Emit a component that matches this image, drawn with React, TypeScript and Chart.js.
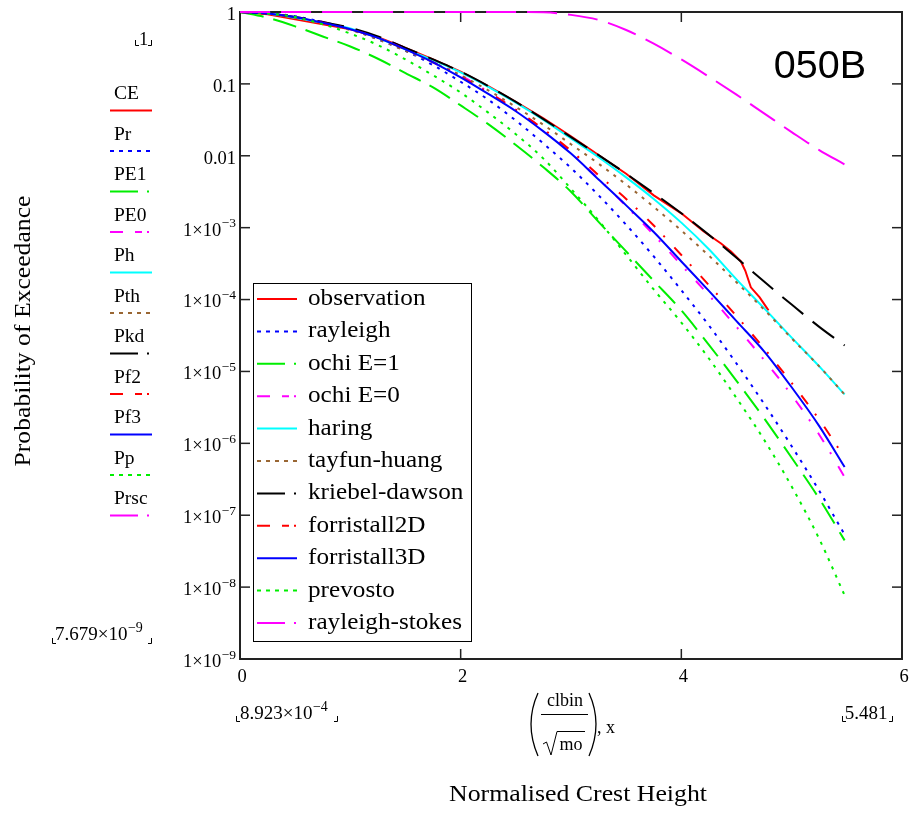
import React, { useEffect, useRef } from "react";
import { Chart, registerables } from "chart.js";
Chart.register(...registerables);

const W = 913;
const H = 821;

// ---------- data ----------
// normalised crest height grid shared by the model curves
const X = [0.00089, 0.25, 0.5, 0.75, 1, 1.25, 1.5, 1.75, 2, 2.25, 2.5, 2.75, 3, 3.25, 3.5, 3.75, 4, 4.25, 4.5, 4.75, 5, 5.25, 5.48];
// values are log10(probability of exceedance)
const logPr = [0, -0.015, -0.06, -0.14, -0.24, -0.38, -0.54, -0.74, -0.97, -1.22, -1.51, -1.83, -2.17, -2.55, -2.96, -3.4, -3.87, -4.36, -4.89, -5.45, -6.04, -6.66, -7.27];
const logPE1 = [0, -0.08, -0.2, -0.34, -0.48, -0.65, -0.85, -1.05, -1.3, -1.56, -1.85, -2.16, -2.5, -2.92, -3.33, -3.74, -4.15, -4.63, -5.13, -5.65, -6.2, -6.77, -7.35];
const logPE0 = [0, -0.02, -0.07, -0.14, -0.23, -0.35, -0.5, -0.68, -0.88, -1.11, -1.36, -1.64, -1.96, -2.32, -2.7, -3.1, -3.52, -3.94, -4.38, -4.84, -5.33, -5.88, -6.47];
const logPh = [0, -0.02, -0.08, -0.15, -0.23, -0.36, -0.52, -0.67, -0.84, -1.04, -1.26, -1.5, -1.76, -2.02, -2.3, -2.6, -2.93, -3.3, -3.72, -4.12, -4.53, -4.93, -5.32];
const logPth = [0, -0.02, -0.08, -0.16, -0.25, -0.38, -0.54, -0.7, -0.88, -1.09, -1.32, -1.57, -1.84, -2.11, -2.4, -2.71, -3.04, -3.39, -3.76, -4.14, -4.54, -4.93, -5.32];
const logPkd = [0, -0.02, -0.07, -0.14, -0.22, -0.34, -0.5, -0.66, -0.83, -1.03, -1.25, -1.49, -1.74, -1.99, -2.25, -2.52, -2.8, -3.1, -3.42, -3.75, -4.07, -4.38, -4.64];
const logPf2 = [0, -0.02, -0.07, -0.15, -0.24, -0.36, -0.52, -0.7, -0.9, -1.12, -1.36, -1.63, -1.93, -2.27, -2.6, -2.97, -3.38, -3.8, -4.23, -4.68, -5.16, -5.67, -6.2];
const logPf3 = [0, -0.02, -0.07, -0.15, -0.24, -0.36, -0.52, -0.7, -0.91, -1.14, -1.38, -1.66, -1.97, -2.33, -2.69, -3.06, -3.47, -3.88, -4.3, -4.72, -5.22, -5.76, -6.33];
const logPp = [0, -0.02, -0.07, -0.17, -0.3, -0.46, -0.66, -0.88, -1.12, -1.4, -1.7, -2.04, -2.46, -2.9, -3.38, -3.86, -4.32, -4.82, -5.37, -5.95, -6.6, -7.33, -8.115];
const logPrsc = [0, 0, 0, 0, 0, 0, 0, 0, 0, 0, 0, -0.005, -0.04, -0.11, -0.25, -0.44, -0.66, -0.9, -1.15, -1.41, -1.67, -1.92, -2.12];
// observation (empirical) has its own abscissae
const obsX = [0.00089, 0.25, 0.5, 0.75, 1, 1.25, 1.5, 1.75, 2, 2.25, 2.5, 2.75, 3, 3.25, 3.5, 3.75, 4, 4.2, 4.36, 4.45, 4.54, 4.58, 4.63, 4.71, 4.79];
const logCE = [0, -0.03, -0.1, -0.17, -0.24, -0.35, -0.5, -0.66, -0.83, -1.03, -1.25, -1.48, -1.73, -1.99, -2.25, -2.55, -2.8, -3.05, -3.22, -3.33, -3.47, -3.6, -3.83, -3.97, -4.15];

const seriesLabels = ["observation", "rayleigh", "ochi E=1", "ochi E=0", "haring", "tayfun-huang", "kriebel-dawson", "forristall2D", "forristall3D", "prevosto", "rayleigh-stokes"];
const traceNames = ["CE", "Pr", "PE1", "PE0", "Ph", "Pth", "Pkd", "Pf2", "Pf3", "Pp", "Prsc"];
const seriesLogs = [logCE, logPr, logPE1, logPE0, logPh, logPth, logPkd, logPf2, logPf3, logPp, logPrsc];

const xTickValues = [0, 2, 4, 6];
const xTickLabels = ["0", "2", "4", "6"];
const yTickValues = [1, 0.1, 0.01, 1e-3, 1e-4, 1e-5, 1e-6, 1e-7, 1e-8, 1e-9];
const yTickMain = ["1", "0.1", "0.01", "1×10", "1×10", "1×10", "1×10", "1×10", "1×10", "1×10"];
const yTickExp = ["", "", "", "−3", "−4", "−5", "−6", "−7", "−8", "−9"];

// ---------- styles ----------
const colors = ["#ff0000", "#0000ff", "#00ee00", "#ff00ff", "#00ffff", "#996633", "#000000", "#ff0000", "#0000ff", "#00ee00", "#ff00ff"];
const plotDash = [[], [3, 6], [24, 10], [11, 12, 2, 14], [], [3, 6], [27, 12], [11, 12, 2, 14], [], [3, 6], [30, 11]];
const kinds = ["solid", "dot", "dash", "dadot", "solid", "dot", "dash", "dadot", "solid", "dot", "dash"];
const legendDash: Record<string, number[]> = {
  solid: [],
  dot: [4, 5],
  dash: [28, 9, 2, 20],
  dadot: [13, 12, 7, 5, 2, 20],
};

const SERIF = '"Liberation Serif", "Times New Roman", serif';
const SANS = '"Liberation Sans", Arial, sans-serif';

function txt(ctx: any, s: string, x: number, y: number, size: number, align: string = "left", hs: number = 1, font: string = SERIF, baseline: string = "middle") {
  ctx.save();
  ctx.font = `${size}px ${font}`;
  ctx.textAlign = align;
  ctx.textBaseline = baseline;
  ctx.fillStyle = "#000";
  ctx.translate(x, y);
  ctx.scale(hs, 1);
  ctx.fillText(s, 0, 0);
  ctx.restore();
}

function measure(ctx: any, s: string, size: number, font: string = SERIF) {
  ctx.save();
  ctx.font = `${size}px ${font}`;
  const w = ctx.measureText(s).width;
  ctx.restore();
  return w;
}

function seg(ctx: any, x1: number, y1: number, x2: number, y2: number) {
  ctx.beginPath();
  ctx.moveTo(x1, y1);
  ctx.lineTo(x2, y2);
  ctx.stroke();
}

// label with a raised exponent, left edge at x
function powLabelLeft(ctx: any, main: string, exp: string, x: number, y: number, size: number, supSize: number) {
  txt(ctx, main, x, y, size, "left");
  const w = measure(ctx, main, size);
  txt(ctx, exp, x + w + 0.5, y - 7, supSize, "left");
  return w + measure(ctx, exp, supSize) + 0.5;
}

function corners(ctx: any, x1: number, x2: number, yb: number) {
  ctx.save();
  ctx.strokeStyle = "#000";
  ctx.lineWidth = 1;
  ctx.beginPath();
  ctx.moveTo(x1 + 0.5, yb - 5);
  ctx.lineTo(x1 + 0.5, yb + 0.5);
  ctx.lineTo(x1 + 4, yb + 0.5);
  ctx.moveTo(x2 - 0.5, yb - 5);
  ctx.lineTo(x2 - 0.5, yb + 0.5);
  ctx.lineTo(x2 - 4, yb + 0.5);
  ctx.stroke();
  ctx.restore();
}

function sample(ctx: any, i: number, x1: number, x2: number, y: number) {
  ctx.save();
  ctx.strokeStyle = colors[i];
  ctx.lineWidth = 2;
  ctx.setLineDash(legendDash[kinds[i]]);
  seg(ctx, x1, y, x2, y);
  ctx.restore();
}

const mathcadPlugin = {
  id: "mathcad",
  beforeDatasetsDraw(chart: any) {
    const { ctx, chartArea: a, scales } = chart;
    const xs = scales.x;
    const ys = scales.y;
    ctx.save();
    ctx.strokeStyle = "#222";
    ctx.lineWidth = 2;
    ctx.strokeRect(a.left, a.top, a.right - a.left, a.bottom - a.top);
    ctx.lineWidth = 1.5;
    yTickValues.forEach((v) => {
      const y = ys.getPixelForValue(v);
      seg(ctx, a.left, y, a.left + 10, y);
      seg(ctx, a.right - 10, y, a.right, y);
    });
    xTickValues.forEach((v) => {
      const x = xs.getPixelForValue(v);
      seg(ctx, x, a.bottom, x, a.bottom - 10);
      seg(ctx, x, a.top, x, a.top + 10);
    });
    ctx.restore();
  },
  afterDraw(chart: any) {
    const { ctx, chartArea: a, scales } = chart;
    const xs = scales.x;
    const ys = scales.y;
    ctx.save();
    // y tick labels
    yTickValues.forEach((v, i) => {
      const y = ys.getPixelForValue(v) + 3;
      const right = a.left - 4;
      const size = 18.5;
      const supSize = 13.5;
      const sw = yTickExp[i] ? measure(ctx, yTickExp[i], supSize) + 0.5 : 0;
      txt(ctx, yTickMain[i], right - sw, y, size, "right");
      if (yTickExp[i]) txt(ctx, yTickExp[i], right - sw + 0.5, y - 7, supSize, "left");
    });
    // x tick labels
    xTickValues.forEach((v, i) => {
      const x = xs.getPixelForValue(v) + 2;
      txt(ctx, xTickLabels[i], x, a.bottom + 18, 18.5, "center");
    });

    // legend box inside the plot
    const lx = 253, ly = 283, lw = 218, lh = 358;
    ctx.fillStyle = "#fff";
    ctx.fillRect(lx, ly, lw, lh);
    ctx.strokeStyle = "#000";
    ctx.lineWidth = 1;
    ctx.strokeRect(lx + 0.5, ly + 0.5, lw, lh);
    seriesLabels.forEach((lab, i) => {
      const y = 299 + i * 32.4;
      sample(ctx, i, 257, 297, y);
      txt(ctx, lab, 308, y, 22.5, "left", 1.12);
    });

    // Mathcad trace-name legend on the left
    traceNames.forEach((nm, i) => {
      const y = 94 + i * 40.5;
      txt(ctx, nm, 114, y, 19.5, "left");
      sample(ctx, i, 110, 152, y + 16.5);
    });

    // axis limit placeholders
    txt(ctx, "1", 143.5, 40, 18.5, "center");
    corners(ctx, 135, 152, 45);
    powLabelLeft(ctx, "7.679×10", "−9", 55, 635, 19, 14);
    corners(ctx, 52, 152, 643);
    powLabelLeft(ctx, "8.923×10", "−4", 240, 714, 19, 14);
    corners(ctx, 236, 338, 721);
    txt(ctx, "5.481", 866, 714, 19, "center");
    corners(ctx, 842, 893, 721);

    // x-axis expression (clbin / sqrt(mo)), x
    ctx.strokeStyle = "#000";
    ctx.lineWidth = 1;
    txt(ctx, "clbin", 565, 701, 18, "center");
    seg(ctx, 541, 714.5, 588, 714.5);
    txt(ctx, "mo", 571, 745, 18, "center");
    ctx.beginPath();
    ctx.moveTo(543, 744);
    ctx.lineTo(546.5, 742);
    ctx.lineTo(551, 755);
    ctx.lineTo(557, 731.5);
    ctx.lineTo(585, 731.5);
    ctx.stroke();
    ctx.lineWidth = 1.3;
    ctx.beginPath();
    ctx.moveTo(538, 693);
    ctx.quadraticCurveTo(524, 724, 538, 756);
    ctx.moveTo(589, 693);
    ctx.quadraticCurveTo(603, 724, 589, 756);
    ctx.stroke();
    txt(ctx, ", x", 597, 728, 18, "left");

    // axis titles
    txt(ctx, "Normalised Crest Height", 578, 795, 24, "center", 1.075);
    ctx.save();
    ctx.translate(24, 331);
    ctx.rotate(-Math.PI / 2);
    txt(ctx, "Probability of Exceedance", 0, 0, 24, "center", 1.07);
    ctx.restore();

    // case label
    txt(ctx, "050B", 820, 78, 39.5, "center", 1, SANS, "alphabetic");
    ctx.restore();
  },
};

export default function App() {
  const ref = useRef<HTMLCanvasElement | null>(null);
  useEffect(() => {
    document.body.style.margin = "0";
    const canvas = ref.current;
    if (!canvas) return;
    const datasets = seriesLabels.map((lab, i) => {
      const xs = i === 0 ? obsX : X;
      const logs = seriesLogs[i];
      return {
        label: lab,
        data: xs.map((x, k) => ({ x, y: Math.pow(10, logs[k]) })),
        borderColor: colors[i],
        backgroundColor: colors[i],
        borderWidth: 2,
        borderDash: plotDash[i],
        pointRadius: 0,
        fill: false,
        tension: i === 0 ? 0 : 0.4,
        cubicInterpolationMode: i === 0 ? "default" : "monotone",
        order: seriesLabels.length - i,
        clip: 3,
      };
    });
    const chart = new Chart(canvas, {
      type: "line",
      data: { datasets } as any,
      plugins: [mathcadPlugin],
      options: {
        animation: false,
        responsive: false,
        devicePixelRatio: 1,
        parsing: true,
        layout: { padding: { top: 12, right: 11, left: 0, bottom: 0 } },
        plugins: { legend: { display: false }, tooltip: { enabled: false } },
        scales: {
          x: {
            type: "linear",
            min: 0,
            max: 6,
            grid: { display: false },
            border: { display: false },
            ticks: { display: false },
            afterFit: (s: any) => {
              s.height = 162;
            },
          },
          y: {
            type: "logarithmic",
            min: 1e-9,
            max: 1,
            grid: { display: false },
            border: { display: false },
            ticks: { display: false },
            afterFit: (s: any) => {
              s.width = 240;
            },
          },
        },
      } as any,
    });
    return () => chart.destroy();
  }, []);
  return (
    <div style={{ width: W, height: H, overflow: "hidden", background: "#fff" }}>
      <canvas ref={ref} width={W} height={H} style={{ display: "block", width: W, height: H }} />
    </div>
  );
}
